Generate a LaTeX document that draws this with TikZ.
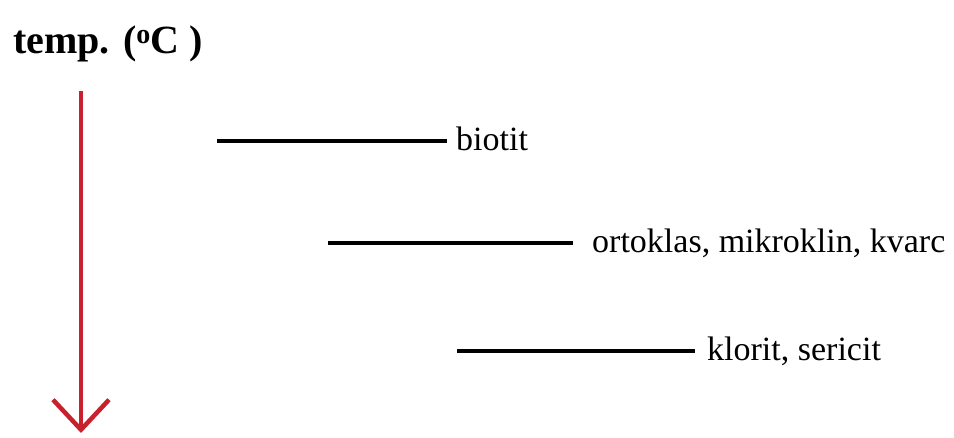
\documentclass[tikz,border=0pt]{standalone}
\usepackage{fontspec}
\setmainfont{Liberation Serif}
\usetikzlibrary{arrows.meta}
\definecolor{arrowred}{RGB}{200,32,44}

\begin{document}
\begin{tikzpicture}
  [
    x                    = 1pt,
    y                    = -1pt,
    phase/.style         = {draw, line width=4.5pt},
    mineral/.style       = {anchor=base west, inner sep=0pt,
                            font=\fontsize{34}{40}\selectfont},
    title/.style         = {anchor=base west, inner sep=0pt,
                            font=\bfseries\fontsize{40}{46}\selectfont},
    temparrow/.style     = {draw=arrowred, line width=4.5pt,
                            -{Straight Barb[length=30pt, width=56pt]}}
  ]
  \useasboundingbox (0,0) rectangle (954,437);
  \node[title] (temp) at (13,53) {temp. (\textsuperscript{o}C )};
  % temperature axis
  \coordinate (hot) at (81,91);
  \coordinate (cold) at (81,433);
  \draw[temparrow] (hot) -- (cold);
  % minerals
  \coordinate (biotitL) at (217,141);
  \coordinate (biotitR) at (447,141);
  \node[mineral] (biotit) at (456,150) {biotit};
  \draw[phase] (biotitL) -- (biotitR);
  \coordinate (ortoklasL) at (328,243);
  \coordinate (ortoklasR) at (573,243);
  \node[mineral] (ortoklas) at (592,252) {ortoklas, mikroklin, kvarc};
  \draw[phase] (ortoklasL) -- (ortoklasR);
  \coordinate (kloritL) at (457,351);
  \coordinate (kloritR) at (695,351);
  \node[mineral] (klorit) at (707,360) {klorit, sericit};
  \draw[phase] (kloritL) -- (kloritR);
\end{tikzpicture}
\end{document}
